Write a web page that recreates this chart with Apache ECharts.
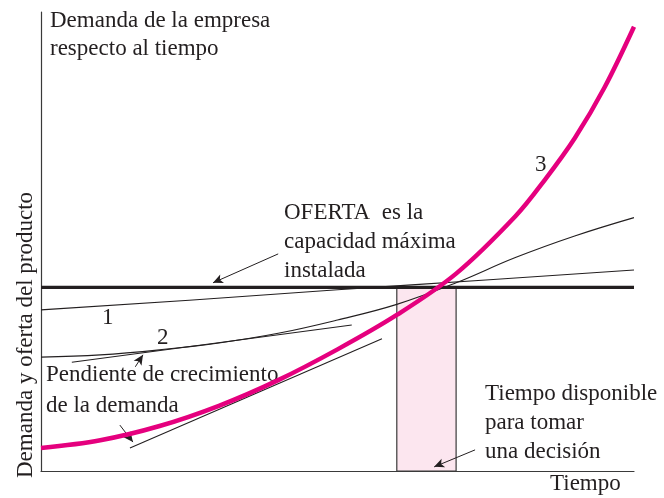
<!DOCTYPE html>
<html>
<head>
<meta charset="utf-8">
<script src="https://cdn.jsdelivr.net/npm/echarts@6/dist/echarts.min.js"></script>
<style>
  html, body { margin: 0; padding: 0; background: #fff; }
  #chart { width: 664px; height: 498px; }
</style>
</head>
<body>
<div id="chart"></div>
<script>
  // datos (tiempo 0-100, demanda 0-100)
  const oferta = 40
  const ventanaDecision = [60, 70]
  const curva1 = [[0, 35.1], [25, 37.2], [50, 39.5], [75, 41.6], [100, 43.8]]
  const curva2 = [[0, 24.8], [10, 25.3], [20, 26.4], [30, 27.9], [40, 30.0], [50, 32.9],
    [60, 36.3], [70, 41.0], [80, 46.5], [90, 51.2], [100, 55.2]]
  const curva3 = [[0, 5.0], [10, 6.7], [20, 9.8], [30, 14.2], [40, 19.8], [50, 26.5],
    [60, 34.0], [70, 43.0], [80, 55.5], [85, 63.5], [90, 72.5], [95, 83.5], [100, 96.8]]
  const tangente2 = [[5.2, 23.7], [52.4, 31.8]]
  const tangente3 = [[15.0, 5.0], [57.5, 28.8]]
  // flechas: [cola, punta]
  const flechas = [
    [[40.0, 47.3], [29.0, 41.0]],
    [[15.9, 22.7], [17.2, 25.3]],
    [[13.3, 10.0], [15.5, 6.3]],
    [[73.2, 4.6], [66.3, 0.9]]
  ]

  const ink = '#231f20'
  const magenta = '#e5007e'
  const serif = '"Liberation Serif", "DejaVu Serif", serif'

  const chart = echarts.init(document.getElementById('chart'))

  function texto(t, x, y, lh, extra) {
    return Object.assign({
      type: 'text',
      x: x,
      y: y,
      style: {
        text: t,
        font: '23px ' + serif,
        fill: ink,
        lineHeight: lh || 29,
        verticalAlign: 'top'
      }
    }, extra || {})
  }

  const thin = { color: ink, width: 1.1 }

  chart.setOption({
    animation: false,
    grid: { left: 41, right: 30, top: 12, bottom: 27 },
    xAxis: {
      type: 'value', min: 0, max: 100,
      axisLine: { lineStyle: { color: '#3a3a3a', width: 1.2 } },
      axisTick: { show: false },
      axisLabel: { show: false },
      splitLine: { show: false }
    },
    yAxis: {
      type: 'value', min: 0, max: 100,
      axisLine: { show: true, lineStyle: { color: '#3a3a3a', width: 1.2 } },
      axisTick: { show: false },
      axisLabel: { show: false },
      splitLine: { show: false }
    },
    series: [
      {
        name: 'oferta',
        type: 'line',
        data: [[0, oferta], [100, oferta]],
        showSymbol: false,
        lineStyle: { color: ink, width: 3.2 },
        z: 3,
        markArea: {
          silent: true,
          itemStyle: { color: '#fce6ef', borderColor: '#3a3a3a', borderWidth: 1.2 },
          data: [[{ coord: [ventanaDecision[0], 0] }, { coord: [ventanaDecision[1], oferta] }]]
        },
        markLine: {
          silent: true,
          symbol: ['none', 'arrow'],
          symbolSize: [7, 10],
          label: { show: false },
          lineStyle: { color: ink, width: 1, type: 'solid' },
          data: flechas.map(f => [{ coord: f[0] }, { coord: f[1] }])
        }
      },
      { name: '1', type: 'line', data: curva1, smooth: true, showSymbol: false, lineStyle: thin, z: 4 },
      { name: '2', type: 'line', data: curva2, smooth: 0.4, showSymbol: false, lineStyle: thin, z: 4 },
      { name: 't2', type: 'line', data: tangente2, showSymbol: false, lineStyle: thin, z: 4 },
      { name: 't3', type: 'line', data: tangente3, showSymbol: false, lineStyle: thin, z: 4 },
      {
        name: '3', type: 'line', data: curva3, smooth: 0.35,
        showSymbol: false, lineStyle: { color: magenta, width: 4.5 }, z: 5
      }
    ],
    graphic: [
      texto('Demanda de la empresa\nrespecto al tiempo', 50, 7, 28),
      texto('OFERTA  es la\ncapacidad máxima\ninstalada', 284, 198.5),
      texto('1', 102, 303.5),
      texto('2', 157, 323.5),
      texto('3', 535, 150.5),
      texto('Pendiente de crecimiento\nde la demanda', 46, 359, 31),
      texto('Tiempo disponible\npara tomar\nuna decisión', 485, 379.5),
      texto('Tiempo', 550, 469.5),
      texto('Demanda y oferta del producto', 11, 478, 29, { rotation: Math.PI / 2 })
    ]
  })
</script>
</body>
</html>
